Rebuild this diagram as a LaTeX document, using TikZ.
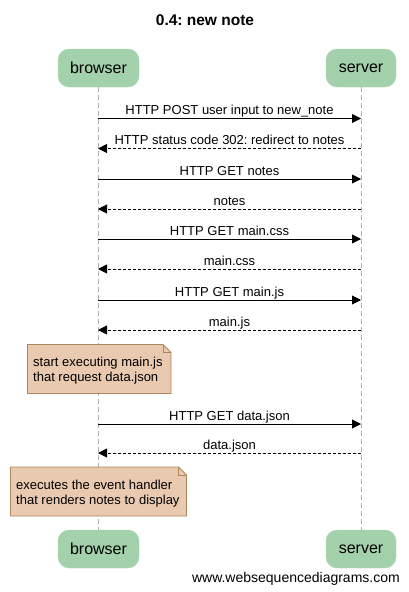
\documentclass[tikz,border=0pt]{standalone}
\usepackage{fontspec}
\setmainfont{Liberation Sans}
\usetikzlibrary{arrows.meta}
\frenchspacing
\definecolor{actorfill}{RGB}{162,209,171}
\definecolor{notefill}{RGB}{233,202,176}
\definecolor{notedraw}{RGB}{168,136,92}
\definecolor{lifegray}{RGB}{175,175,175}
\tikzset{
  actor/.style={fill=actorfill, draw=actorfill!85!white, rounded corners=11pt, minimum height=38pt, inner sep=0pt, font=\fontsize{16}{18}\selectfont},
  life/.style={draw=lifegray, line width=0.8pt, dash pattern=on 5pt off 3pt},
  msg/.style={line width=0.9pt, -{Triangle[length=9pt,width=9pt]}},
  reply/.style={msg, dash pattern=on 3pt off 2pt},
  lbl/.style={font=\fontsize{13}{15}\selectfont, anchor=base, inner sep=0pt, yshift=4pt},
  notetext/.style={font=\fontsize{13}{15}\selectfont, align=left, inner sep=0pt, anchor=base west},
}
\begin{document}
\begin{tikzpicture}[x=1pt,y=-1pt]
\useasboundingbox (0,0) rectangle (409,592);
\fill[white] (0,0) rectangle (409,592);
\node[font=\bfseries\fontsize{15.5}{18}\selectfont] (title) at (205,20) {0.4: new note};
% lifelines
\coordinate (bt) at (98,87); \coordinate (bb) at (98,530);
\coordinate (st) at (361,87); \coordinate (sb) at (361,530);
\draw[life] (bt) -- (bb);
\draw[life] (st) -- (sb);
% actors
\node[actor, minimum width=81pt] (browser) at (98.5,68) {browser};
\node[actor, minimum width=70pt] (server) at (361,68) {server};
\node[actor, minimum width=81pt] (browser2) at (98.5,549) {browser};
\node[actor, minimum width=70pt] (server2) at (361,549) {server};
% messages
\foreach \y/\n in {118.5/1,148.5/2,179/3,209/4,239/5,269/6,300/7,330/8,424/9,453/10}{
  \coordinate (b\n) at (98,\y); \coordinate (s\n) at (361,\y);
}
\draw[msg] (b1) -- (s1) node[lbl, midway] {HTTP POST user input to new\_note};
\draw[reply] (s2) -- (b2) node[lbl, midway] {HTTP status code 302: redirect to notes};
\draw[msg] (b3) -- (s3) node[lbl, midway] {HTTP GET notes};
\draw[reply] (s4) -- (b4) node[lbl, midway] {notes};
\draw[msg] (b5) -- (s5) node[lbl, midway] {HTTP GET main.css};
\draw[reply] (s6) -- (b6) node[lbl, midway] {main.css};
\draw[msg] (b7) -- (s7) node[lbl, midway] {HTTP GET main.js};
\draw[reply] (s8) -- (b8) node[lbl, midway] {main.js};
\draw[msg] (b9) -- (s9) node[lbl, midway] {HTTP GET data.json};
\draw[reply] (s10) -- (b10) node[lbl, midway] {data.json};
% note 1
\draw[fill=notefill, draw=notedraw, line width=0.8pt] (27.5,344.5) -- (163,344.5) -- (171,352.5) -- (171,393.5) -- (27.5,393.5) -- cycle;
\draw[draw=notedraw, line width=0.8pt] (163,344.5) -- (163,352.5) -- (171,352.5);
\node[notetext] (note1) at (33,381.5) {start executing main.js\\that request data.json};
% note 2
\draw[fill=notefill, draw=notedraw, line width=0.8pt] (10.5,467) -- (178.5,467) -- (186.5,475) -- (186.5,516) -- (10.5,516) -- cycle;
\draw[draw=notedraw, line width=0.8pt] (178.5,467) -- (178.5,475) -- (186.5,475);
\node[notetext] (note2) at (16,504.5) {executes the event handler\\that renders notes to display};
% footer
\node[font=\fontsize{14}{16}\selectfont, anchor=base east, inner sep=0pt] (footer) at (400,582) {www.websequencediagrams.com};
\end{tikzpicture}
\end{document}
